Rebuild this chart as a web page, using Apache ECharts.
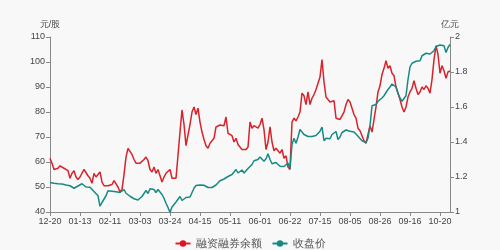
<!DOCTYPE html>
<html>
<head>
<meta charset="utf-8">
<script src="https://cdn.jsdelivr.net/npm/echarts@6/dist/echarts.min.js"></script>
<style>html,body{margin:0;padding:0;background:#f8f8f8;}#c{width:500px;height:250px;}</style>
</head>
<body>
<div id="c"></div>
<script>
var categories = [
'12-20','12-23','12-24','12-25','12-26','12-27','12-30','12-31',
'01-02','01-03','01-06','01-07','01-08','01-09','01-10','01-13',
'01-14','01-15','01-16','01-17','01-20','01-21','01-22','01-23',
'02-03','02-04','02-05','02-06','02-07','02-10','02-11',
'02-12','02-13','02-14','02-17','02-18','02-19','02-20','02-21','02-24','02-25','02-26','02-27','02-28','03-02','03-03',
'03-04','03-05','03-06','03-09','03-10','03-11','03-12','03-13','03-16','03-17','03-18','03-19','03-20','03-23','03-24',
'03-25','03-26','03-27','03-30','03-31','04-01','04-02','04-03','04-07','04-08','04-09','04-10','04-13','04-14','04-15',
'04-16','04-17','04-20','04-21','04-22','04-23','04-24','04-27','04-28','04-29','04-30','05-06','05-07','05-08','05-11',
'05-12','05-13','05-14','05-15','05-18','05-19','05-20','05-21','05-22','05-25','05-26','05-27','05-28','05-29','06-01',
'06-02','06-03','06-04','06-05','06-08','06-09','06-10','06-11','06-12','06-15','06-16','06-17','06-18','06-19','06-22',
'06-23','06-24','06-29','06-30','07-01','07-02','07-03','07-06','07-07','07-08','07-09','07-10','07-13','07-14','07-15',
'07-16','07-17','07-20','07-21','07-22','07-23','07-24','07-27','07-28','07-29','07-30','07-31','08-03','08-04','08-05',
'08-06','08-07','08-10','08-11','08-12','08-13','08-14','08-17','08-18','08-19','08-20','08-21','08-24','08-25','08-26',
'08-27','08-28','08-31','09-01','09-02','09-03','09-04','09-07','09-08','09-09','09-10','09-11','09-14','09-15','09-16',
'09-17','09-18','09-21','09-22','09-23','09-24','09-25','09-28','09-29','09-30','10-09','10-12','10-14','10-16','10-20',
'10-21','10-22','10-23','10-26','10-27'
];

// 融资融券余额 (亿元), right axis
var marginBalance = [
1.307,1.279,1.243,1.236,1.250,1.264,1.271,1.250,1.257,1.236,
1.193,1.221,1.236,1.200,1.186,1.200,1.200,1.243,1.236,1.207,
1.193,1.164,1.221,1.200,1.214,1.229,1.171,1.150,1.157,1.150,
1.157,1.157,1.179,1.171,1.143,1.114,1.129,1.214,1.314,1.364,
1.357,1.329,1.300,1.279,1.271,1.279,1.271,1.300,1.314,1.293,
1.243,1.229,1.257,1.221,1.243,1.207,1.171,1.200,1.221,1.214,
1.243,1.193,1.193,1.193,1.193,1.457,1.583,1.500,1.379,1.371,
1.500,1.571,1.600,1.557,1.593,1.514,1.457,1.414,1.379,1.364,
1.393,1.407,1.421,1.486,1.493,1.497,1.507,1.493,1.543,1.450,
1.443,1.436,1.400,1.421,1.386,1.371,1.357,1.364,1.357,1.371,
1.514,1.479,1.493,1.500,1.479,1.500,1.536,1.471,1.357,1.400,
1.486,1.400,1.350,1.364,1.371,1.336,1.357,1.307,1.321,1.257,
1.243,1.514,1.536,1.521,1.543,1.571,1.679,1.664,1.614,1.686,
1.614,1.650,1.671,1.700,1.693,1.771,1.871,1.743,1.657,1.664,
1.629,1.629,1.636,1.536,1.529,1.529,1.526,1.571,1.614,1.643,
1.629,1.629,1.557,1.536,1.479,1.464,1.436,1.407,1.393,1.400,
1.493,1.457,1.450,1.600,1.686,1.721,1.786,1.821,1.864,1.821,
1.836,1.793,1.779,1.714,1.679,1.643,1.600,1.571,1.600,1.657,
1.686,1.707,1.750,1.707,1.671,1.686,1.714,1.700,1.721,1.707,
1.679,1.757,1.871,1.950,1.900,1.793,1.836,1.807,1.764,1.800,
1.807
];

// 收盘价 (元/股), left axis
var closePrice = [
51.8,51.3,51.5,51.6,51.3,51.4,51.2,51.0,50.8,50.8,
50.5,50.0,49.5,49.8,50.4,51.0,51.3,51.5,50.0,49.8,
49.9,49.5,48.2,47.5,46.5,42.3,43.8,44.5,46.5,48.5,
48.4,48.3,48.2,48.1,48.0,47.8,48.3,49.0,47.5,46.8,
46.3,45.8,45.3,45.5,44.8,45.2,46.2,46.8,48.6,47.4,
49.3,49.3,49.0,47.8,49.0,48.8,47.0,45.5,43.5,41.8,
39.8,42.0,43.0,44.0,44.5,46.2,44.6,45.0,45.8,46.0,
46.0,46.5,49.5,50.6,50.8,50.8,50.6,50.7,50.2,49.8,
49.5,49.8,50.2,50.8,51.3,52.5,52.6,53.2,53.6,54.2,
54.8,55.0,55.1,57.0,55.6,56.2,56.8,55.6,56.2,57.4,
57.8,59.0,60.5,61.3,61.0,62.0,61.5,60.3,61.3,63.3,
61.0,59.3,59.5,59.8,59.6,58.3,59.0,58.2,59.0,59.6,
57.4,67.0,69.5,67.5,70.0,73.0,72.8,71.0,70.3,70.2,
70.0,70.2,70.3,70.6,71.0,72.3,74.0,68.5,69.5,69.0,
69.3,71.0,71.2,72.2,69.0,70.0,71.8,72.4,72.8,72.5,
72.3,72.6,72.0,71.2,70.3,69.5,68.5,68.0,67.8,69.5,
74.5,82.5,82.0,83.0,84.3,85.0,85.6,86.5,87.8,89.0,
90.0,91.2,92.0,90.0,87.5,85.6,84.3,83.5,86.5,93.0,
98.0,99.5,100.0,100.3,100.8,100.5,102.5,103.2,103.5,103.8,
103.2,102.8,104.5,106.2,106.8,106.8,106.9,106.5,103.8,105.8,
107.0
];

var leftAxis = { name: '元/股', min: 40, max: 110, interval: 10 };
var rightAxis = { name: '亿元', min: 1, max: 2, interval: 0.2 };
var seriesNames = ['融资融券余额', '收盘价'];

var chart = echarts.init(document.getElementById('c'), null, { renderer: 'canvas' });
var axisColor = '#888';
var labelColor = '#444';
chart.setOption({
  backgroundColor: '#f8f8f8',
  animation: false,
  grid: { left: 50, right: 50, top: 37, bottom: 38 },
  legend: {
    data: seriesNames,
    top: 233,
    left: 'center',
    itemWidth: 15,
    itemHeight: 8,
    itemGap: 10,
    textStyle: { fontSize: 11, color: '#555' }
  },
  xAxis: {
    type: 'category',
    data: categories,
    boundaryGap: false,
    axisLine: { lineStyle: { color: axisColor } },
    axisTick: { interval: 14, length: 4, lineStyle: { color: axisColor } },
    axisLabel: { interval: 14, fontSize: 9, color: labelColor, margin: 5 },
    splitLine: { show: false }
  },
  yAxis: [
    {
      type: 'value', name: leftAxis.name, min: leftAxis.min, max: leftAxis.max, interval: leftAxis.interval,
      nameGap: 8, nameTextStyle: { fontSize: 9, color: labelColor },
      axisLine: { show: true, lineStyle: { color: axisColor } },
      axisTick: { show: true, length: 4, lineStyle: { color: axisColor } },
      axisLabel: { fontSize: 9, color: labelColor, margin: 5 },
      splitLine: { show: false }
    },
    {
      type: 'value', name: rightAxis.name, min: rightAxis.min, max: rightAxis.max, interval: rightAxis.interval,
      nameGap: 8, nameTextStyle: { fontSize: 9, color: labelColor },
      axisLine: { show: true, lineStyle: { color: axisColor } },
      axisTick: { show: true, length: 4, lineStyle: { color: axisColor } },
      axisLabel: { fontSize: 9, color: labelColor, margin: 5 },
      splitLine: { show: false }
    }
  ],
  series: [
    {
      name: seriesNames[0], type: 'line', yAxisIndex: 1, data: marginBalance,
      symbol: 'circle', showSymbol: false,
      itemStyle: { color: '#e0141e' },
      lineStyle: { color: '#d9222a', width: 1.5 }
    },
    {
      name: seriesNames[1], type: 'line', yAxisIndex: 0, data: closePrice,
      symbol: 'circle', showSymbol: false,
      itemStyle: { color: '#138a80' },
      lineStyle: { color: '#168a82', width: 1.5 }
    }
  ]
});
</script>
</body>
</html>
